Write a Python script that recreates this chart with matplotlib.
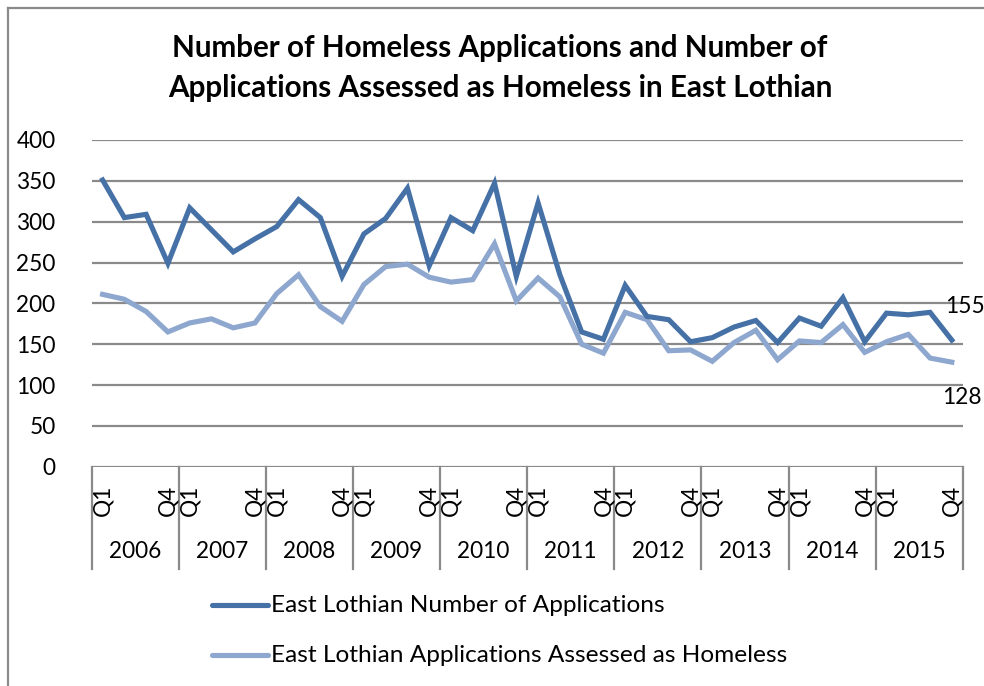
import matplotlib
matplotlib.use("Agg")
import matplotlib.pyplot as plt
from matplotlib.lines import Line2D
from matplotlib.transforms import blended_transform_factory

plt.rcParams['font.family'] = ['Lato', 'DejaVu Sans']

years = ['2006', '2007', '2008', '2009', '2010', '2011', '2012', '2013', '2014', '2015']
quarters = ['Q1', 'Q2', 'Q3', 'Q4']

applications = [351, 305, 309, 249, 317, 290, 263, 279, 294, 327,
                305, 233, 285, 304, 341, 246, 305, 289, 347, 233,
                323, 235, 165, 156, 222, 184, 180, 153, 158, 171,
                179, 152, 182, 172, 207, 153, 188, 186, 189, 155]
assessed_homeless = [211, 205, 190, 165, 176, 181, 170, 176, 212, 235,
                     196, 178, 223, 245, 248, 232, 226, 229, 273, 203,
                     231, 208, 150, 139, 189, 180, 142, 143, 129, 152,
                     167, 131, 154, 152, 174, 140, 153, 162, 133, 128]

series_names = ['East Lothian Number of Applications',
                'East Lothian Applications Assessed as Homeless']
colors = ['#4571A6', '#8EA7CF']
grid_color = '#8A8A8A'
fs = 16.3

W, H = 984, 686
fig = plt.figure(figsize=(W / 100, H / 100), dpi=100)

# plot area in pixel coordinates
left_px, right_px, top_px, bottom_px = 91.7, 962.7, 140.0, 466.7
ax = fig.add_axes([left_px / W, 1 - bottom_px / H,
                   (right_px - left_px) / W, (bottom_px - top_px) / H])

n = len(applications)
x = [i + 0.5 for i in range(n)]
ax.set_xlim(0, n)
ax.set_ylim(0, 400)
for s in ax.spines.values():
    s.set_visible(False)
ax.set_xticks([])
yticks = list(range(0, 401, 50))
ax.set_yticks(yticks)
ax.set_yticklabels([str(v) for v in yticks], fontsize=fs, color='black')
ax.tick_params(axis='y', length=0, pad=26)
for v in yticks:
    ax.axhline(v, color=grid_color, lw=1.6, zorder=1)

ax.plot(x, applications, color=colors[0], lw=3.7, zorder=3,
        solid_joinstyle='miter', label=series_names[0])
ax.plot(x, assessed_homeless, color=colors[1], lw=3.7, zorder=2,
        solid_joinstyle='miter', label=series_names[1])

# end-point value labels
ax.annotate(str(applications[-1]), (x[-1], applications[-1]),
            xytext=(-7, 34), textcoords='offset pixels',
            ha='left', va='center', fontsize=fs, annotation_clip=False)
ax.annotate(str(assessed_homeless[-1]), (x[-1], assessed_homeless[-1]),
            xytext=(-10, -35), textcoords='offset pixels',
            ha='left', va='center', fontsize=fs, annotation_clip=False)

# two-level category axis: quarters and years
ppy = (bottom_px - top_px)  # pixels per axes unit in y
sep_len = (569 - bottom_px) / ppy
trans = blended_transform_factory(ax.transData, ax.transAxes)
for k in range(len(years) + 1):
    ax.add_line(Line2D([4 * k, 4 * k], [0, -sep_len], transform=trans,
                       color=grid_color, lw=1.6, clip_on=False))
for k, yr in enumerate(years):
    for q in (0, 3):
        ax.text(4 * k + q + 0.5, -(500 - bottom_px) / ppy, quarters[q],
                transform=trans, rotation=90, ha='center', va='center',
                fontsize=fs)
    ax.text(4 * k + 2, -(551.5 - bottom_px) / ppy, yr, transform=trans,
            ha='center', va='center', fontsize=fs)

# title
fig.text(500 / W, 1 - 68 / H,
         'Number of Homeless Applications and Number of\n'
         'Applications Assessed as Homeless in East Lothian',
         ha='center', va='center', fontsize=21.3, fontweight='bold',
         linespacing=1.55)

# legend drawn as two stacked entries
for j, (name, c) in enumerate(zip(series_names, colors)):
    yy = 1 - (605 + 50 * j) / H
    fig.add_artist(Line2D([212 / W, 268 / W], [yy, yy], color=c, lw=3.7,
                          solid_capstyle='round'))
    fig.text(271 / W, yy, name, ha='left', va='center', fontsize=17.6)

# chart frame
fig.add_artist(Line2D([8 / W, 8 / W], [0, 1 - 8 / H], color=grid_color, lw=1.6))
fig.add_artist(Line2D([8 / W, 1], [1 - 8 / H, 1 - 8 / H], color=grid_color, lw=1.6))

fig.savefig('out.png', dpi=100)
